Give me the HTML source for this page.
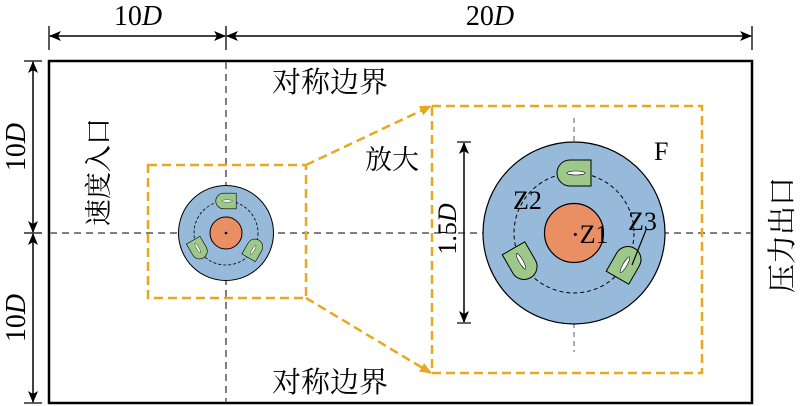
<!DOCTYPE html>
<html><head><meta charset="utf-8"><style>
html,body{margin:0;padding:0;background:#fff;width:800px;height:406px;overflow:hidden}
text{font-family:"Liberation Serif","Noto Serif CJK SC",serif;fill:#000}
.cn{font-family:"Liberation Serif","Noto Serif CJK SC","Noto Sans CJK SC",serif}
</style></head><body>
<svg width="800" height="406" viewBox="0 0 800 406" xmlns="http://www.w3.org/2000/svg">
<defs>
<marker id="ah" markerWidth="12" markerHeight="10" refX="11" refY="5" orient="auto" markerUnits="userSpaceOnUse">
<path d="M0,0 L12,5 L0,10 L3,5 Z" fill="#000"/></marker>
<marker id="ay" markerWidth="12" markerHeight="10" refX="11" refY="5" orient="auto" markerUnits="userSpaceOnUse">
<path d="M0,0 L12,5 L0,10 Z" fill="#e8a820"/></marker>
<g id="blade">
<path d="M-4,-13 H17 V13 H-4 A13,13 0 0 1 -4,-13 Z" fill="#9cc98a" stroke="#000" stroke-width="1"/>
<ellipse cx="2" cy="0" rx="9" ry="2" fill="#fff" stroke="#000" stroke-width="0.6"/>
</g>
</defs>
<line x1="49" y1="26" x2="49" y2="50" stroke="#000" stroke-width="1.3"/>
<line x1="226" y1="26" x2="226" y2="50" stroke="#000" stroke-width="1.3"/>
<line x1="752" y1="26" x2="752" y2="50" stroke="#000" stroke-width="1.3"/>
<line x1="138" y1="36" x2="50" y2="36" stroke="#000" stroke-width="1.5" marker-end="url(#ah)"/>
<line x1="138" y1="36" x2="225" y2="36" stroke="#000" stroke-width="1.5" marker-end="url(#ah)"/>
<line x1="490" y1="36" x2="227" y2="36" stroke="#000" stroke-width="1.5" marker-end="url(#ah)"/>
<line x1="490" y1="36" x2="751" y2="36" stroke="#000" stroke-width="1.5" marker-end="url(#ah)"/>
<text x="138" y="25" font-size="28" text-anchor="middle">10<tspan font-style="italic">D</tspan></text>
<text x="490" y="25" font-size="28" text-anchor="middle">20<tspan font-style="italic">D</tspan></text>
<line x1="24" y1="61" x2="42" y2="61" stroke="#000" stroke-width="1.3"/>
<line x1="24" y1="233" x2="42" y2="233" stroke="#000" stroke-width="1.3"/>
<line x1="24" y1="403" x2="42" y2="403" stroke="#000" stroke-width="1.3"/>
<line x1="33" y1="147" x2="33" y2="62" stroke="#000" stroke-width="1.5" marker-end="url(#ah)"/>
<line x1="33" y1="147" x2="33" y2="232" stroke="#000" stroke-width="1.5" marker-end="url(#ah)"/>
<line x1="33" y1="318" x2="33" y2="234" stroke="#000" stroke-width="1.5" marker-end="url(#ah)"/>
<line x1="33" y1="318" x2="33" y2="402" stroke="#000" stroke-width="1.5" marker-end="url(#ah)"/>
<text transform="translate(25,147) rotate(-90)" font-size="28" text-anchor="middle">10<tspan font-style="italic">D</tspan></text>
<text transform="translate(25,318) rotate(-90)" font-size="28" text-anchor="middle">10<tspan font-style="italic">D</tspan></text>
<rect x="49" y="61" width="703" height="342" fill="none" stroke="#000" stroke-width="2.5"/>
<line x1="226" y1="62" x2="226" y2="402" stroke="#808080" stroke-width="2" stroke-dasharray="7,5"/>
<line x1="50" y1="233" x2="751" y2="233" stroke="#808080" stroke-width="2" stroke-dasharray="7,5"/>
<text class="cn" x="330" y="92" font-size="29" text-anchor="middle">对称边界</text>
<text class="cn" x="330" y="392" font-size="29" text-anchor="middle">对称边界</text>
<text class="cn" transform="translate(108,172) rotate(-90)" font-size="27" text-anchor="middle">速度入口</text>
<text class="cn" transform="translate(792,235) rotate(-90)" font-size="29" text-anchor="middle">压力出口</text>
<text class="cn" x="392" y="169" font-size="27" text-anchor="middle">放大</text>
<circle cx="226" cy="233" r="47.5" fill="#97b9da" stroke="#000" stroke-width="1"/>
<circle cx="226" cy="233" r="32" fill="none" stroke="#000" stroke-width="0.8" stroke-dasharray="3,2"/>
<circle cx="226" cy="233" r="16" fill="#ea8e63" stroke="#000" stroke-width="1"/>
<circle cx="226" cy="233" r="1.3" fill="#000"/>
<g transform="translate(226,233)">
<g transform="translate(0,-32) scale(0.6)"><use href="#blade"/></g>
<g transform="rotate(120) translate(0,-32) scale(0.6)"><use href="#blade"/></g>
<g transform="rotate(240) translate(0,-32) scale(0.6)"><use href="#blade"/></g>
</g>
<rect x="148" y="165" width="158" height="133" fill="none" stroke="#e8a820" stroke-width="2.5" stroke-dasharray="9,5"/>
<rect x="432" y="106" width="270" height="267" fill="none" stroke="#e8a820" stroke-width="2.5" stroke-dasharray="9,5"/>
<line x1="306" y1="165" x2="431" y2="106" stroke="#e8a820" stroke-width="2.5" stroke-dasharray="9,5" marker-end="url(#ay)"/>
<line x1="306" y1="298" x2="431" y2="373" stroke="#e8a820" stroke-width="2.5" stroke-dasharray="9,5" marker-end="url(#ay)"/>
<line x1="574" y1="118" x2="574" y2="143" stroke="#808080" stroke-width="1.3" stroke-dasharray="5,4"/>
<line x1="574" y1="323" x2="574" y2="352" stroke="#808080" stroke-width="1.3" stroke-dasharray="5,4"/>
<circle cx="574" cy="233" r="91" fill="#97b9da" stroke="#000" stroke-width="1.2"/>
<circle cx="574" cy="233" r="60" fill="none" stroke="#000" stroke-width="1" stroke-dasharray="4,3"/>
<circle cx="574" cy="233" r="29.5" fill="#ea8e63" stroke="#000" stroke-width="1.2"/>
<g transform="translate(574,233)">
<g transform="translate(0,-60)"><use href="#blade"/></g>
<g transform="rotate(120) translate(0,-60)"><use href="#blade"/></g>
<g transform="rotate(240) translate(0,-60)"><use href="#blade"/></g>
</g>
<text x="571" y="243" font-size="26">·Z1</text>
<text x="513" y="209" font-size="26">Z2</text>
<text x="628" y="230" font-size="26">Z3</text>
<line x1="646" y1="230" x2="632" y2="265" stroke="#000" stroke-width="1.2"/>
<text x="654" y="160" font-size="26">F</text>
<line x1="464" y1="232" x2="464" y2="143" stroke="#000" stroke-width="1.5" marker-end="url(#ah)"/>
<line x1="464" y1="232" x2="464" y2="322" stroke="#000" stroke-width="1.5" marker-end="url(#ah)"/>
<line x1="457" y1="142" x2="471" y2="142" stroke="#000" stroke-width="1.2"/>
<line x1="457" y1="323" x2="471" y2="323" stroke="#000" stroke-width="1.2"/>
<text transform="translate(456,229) rotate(-90)" font-size="26" text-anchor="middle">1.5<tspan font-style="italic">D</tspan></text>
</svg>
</body></html>
